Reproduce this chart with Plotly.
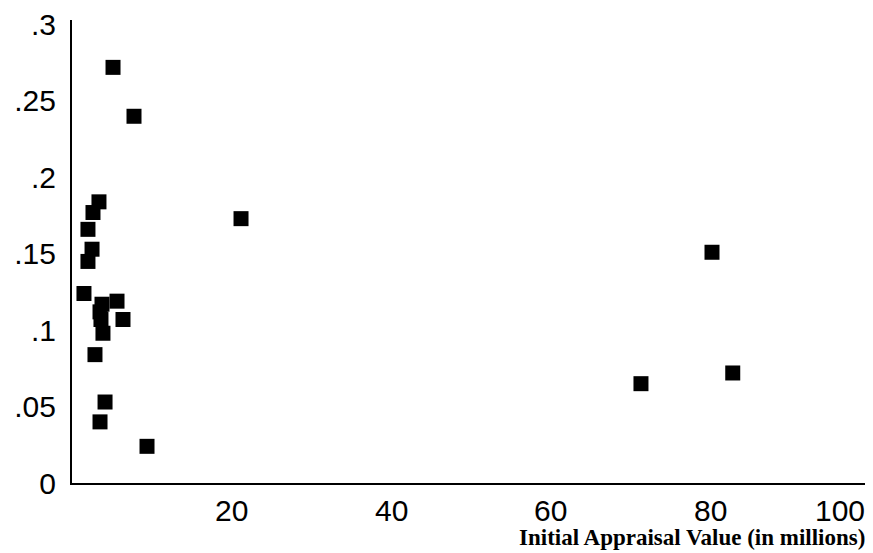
import plotly.graph_objects as go

appraisal = [5.14, 7.77, 3.38, 2.63, 2.00, 2.51, 2.00, 1.50, 3.76, 5.64, 3.51,
             3.63, 6.39, 3.88, 2.88, 4.14, 3.51, 9.40, 21.18, 80.2, 71.3, 82.8]
rate = [0.272, 0.240, 0.184, 0.177, 0.166, 0.153, 0.145, 0.124, 0.117, 0.119, 0.112,
        0.107, 0.107, 0.098, 0.084, 0.053, 0.040, 0.024, 0.173, 0.151, 0.065, 0.072]

y_tick_vals = [0, 0.05, 0.1, 0.15, 0.2, 0.25, 0.3]
y_tick_text = ["0", ".05", ".1", ".15", ".2", ".25", ".3"]
x_tick_vals = [20, 40, 60, 80, 100]
x_tick_text = ["20", "40", "60", "80", "100"]
x_title = "Initial Appraisal Value (in millions)"

fig = go.Figure()
fig.add_trace(go.Scatter(
    x=appraisal, y=rate, mode="markers",
    marker=dict(symbol="square", size=15, color="black", line=dict(width=0)),
    showlegend=False,
))

annotations = []
for v, t in zip(x_tick_vals, x_tick_text):
    annotations.append(dict(
        x=v, y=0, xref="x", yref="y", text=t, showarrow=False,
        xanchor="right" if v == 100 else "center", yanchor="top", yshift=-9,
        xshift=-3 if v == 100 else 0,
        font=dict(family="Liberation Sans, Arial", size=30, color="black"),
    ))
annotations.append(dict(
    x=1, y=0, xref="paper", yref="paper", text="<b>" + x_title + "</b>", showarrow=False,
    xanchor="right", yanchor="top", yshift=-40, xshift=-3,
    font=dict(family="Liberation Serif, Times New Roman", size=23, color="black"),
))

fig.update_layout(
    width=865, height=545,
    margin=dict(l=64, r=3, t=12, b=70, autoexpand=False),
    paper_bgcolor="white", plot_bgcolor="white",
    annotations=annotations,
    xaxis=dict(
        range=[0, 100], showgrid=False, zeroline=False, automargin=False,
        showline=True, linecolor="black", linewidth=2,
        showticklabels=False, ticks="",
    ),
    yaxis=dict(
        range=[0, 0.303], showgrid=False, zeroline=False, automargin=False,
        showline=True, linecolor="black", linewidth=2,
        tickvals=y_tick_vals, ticktext=y_tick_text, ticks="",
        ticklabelstandoff=8,
        tickfont=dict(family="Liberation Sans, Arial", size=30, color="black"),
    ),
)

fig.write_html("out.html")
